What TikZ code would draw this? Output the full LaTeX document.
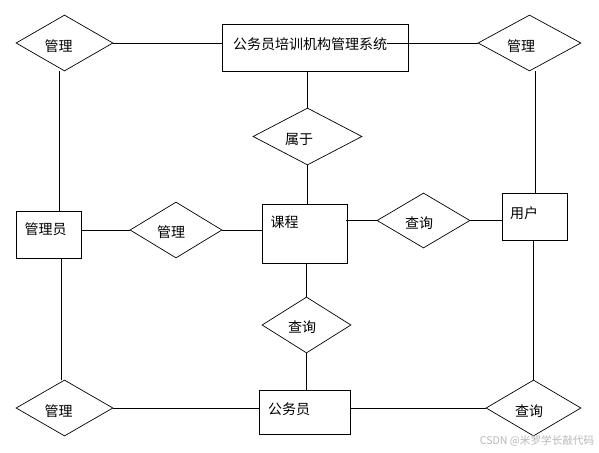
\documentclass[tikz,border=0pt]{standalone}
\usepackage{fontspec}
\setmainfont{Noto Sans CJK SC}
\usetikzlibrary{shapes.geometric}
\begin{document}
\begin{tikzpicture}[x=1pt,y=-1pt,
  ent/.style={draw, rectangle, line width=0.8pt, inner sep=0},
  rel/.style={draw, diamond, line width=0.7pt, inner sep=0},
  lbl/.style={inner sep=0, font=\fontsize{14}{14}\selectfont},
  conn/.style={line width=0.8pt},
  wm/.style={inner sep=0, text=black!28, font=\fontsize{10.6}{10.6}\selectfont}]
\useasboundingbox (0,0) rectangle (599,452);
\fill[white] (0,0) rectangle (599,452);
% entities
\node[ent, minimum width=186pt, minimum height=47pt] (sys) at (315,47.5) {};
\node[ent, minimum width=65pt, minimum height=47pt] (user) at (534.5,216.5) {};
\node[ent, minimum width=85pt, minimum height=59pt] (course) at (304.5,233.5) {};
\node[ent, minimum width=65pt, minimum height=47pt] (admin) at (48.5,234.5) {};
\node[ent, minimum width=91pt, minimum height=44pt] (staff) at (304.5,412) {};
% relations
\node[rel, minimum width=97pt, minimum height=56pt] (r1) at (64.5,43) {};
\node[rel, minimum width=103pt, minimum height=56pt] (r2) at (529.5,43) {};
\node[rel, minimum width=109pt, minimum height=57pt] (r3) at (307.5,136.5) {};
\node[rel, minimum width=93pt, minimum height=55pt] (r4) at (423.5,220.5) {};
\node[rel, minimum width=92pt, minimum height=56pt] (r5) at (176,230) {};
\node[rel, minimum width=89pt, minimum height=56pt] (r6) at (306.5,325) {};
\node[rel, minimum width=97pt, minimum height=56pt] (r7) at (64.5,408) {};
\node[rel, minimum width=95pt, minimum height=56pt] (r8) at (533.5,408) {};
% labels
\node[lbl] (sysl) at (310,44.5) {公务员培训机构管理系统};
\node[lbl] (userl) at (524,213) {用户};
\node[lbl] (coursel) at (284.5,222.5) {课程};
\node[lbl] (adminl) at (45.5,229.5) {管理员};
\node[lbl] (staffl) at (289,409) {公务员};
\node[lbl] (r1l) at (58.5,46.5) {管理};
\node[lbl] (r2l) at (521,46.5) {管理};
\node[lbl] (r3l) at (299,139.5) {属于};
\node[lbl] (r4l) at (419,223.5) {查询};
\node[lbl] (r5l) at (171,232.5) {管理};
\node[lbl] (r6l) at (302,327.5) {查询};
\node[lbl] (r7l) at (58.5,411.5) {管理};
\node[lbl] (r8l) at (529,411.5) {查询};
\node[wm] (wm) at (537,441) {CSDN @米罗学长敲代码};
% connectors
\draw[conn] (r1.east) -- (r1.east -| sys.west);
\draw[conn] (r2.west -| sysl.east) -- (r2.west);
\draw[conn] ([xshift=-5pt]r1.south) -- ([xshift=-5pt]r1.south |- admin.north);
\draw[conn] ([xshift=-3.5pt]r7.north |- admin.south) -- ([xshift=-3.5pt]r7.north);
\draw[conn] (r7.east) -- (r7.east -| staff.west);
\draw[conn] (r8.west -| staff.east) -- (r8.west);
\draw[conn] (r8.north) -- (r8.north |- user.south);
\draw[conn] ([xshift=1pt]user.north) -- ([xshift=1pt]user.north |- r2.south);
\draw[conn] (r3.north |- sys.south) -- (r3.north);
\draw[conn] (r3.south) -- (r3.south |- course.north);
\draw[conn] ([xshift=-1.5pt]r4.west -| course.east) -- (r4.west);
\draw[conn] (r4.east) -- (r4.east -| user.west);
\draw[conn] (r5.west -| admin.east) -- (r5.west);
\draw[conn] (r5.east) -- (r5.east -| course.west);
\draw[conn] (r6.north |- course.south) -- (r6.north);
\draw[conn] (r6.south) -- (r6.south |- staff.north);
\end{tikzpicture}
\end{document}
